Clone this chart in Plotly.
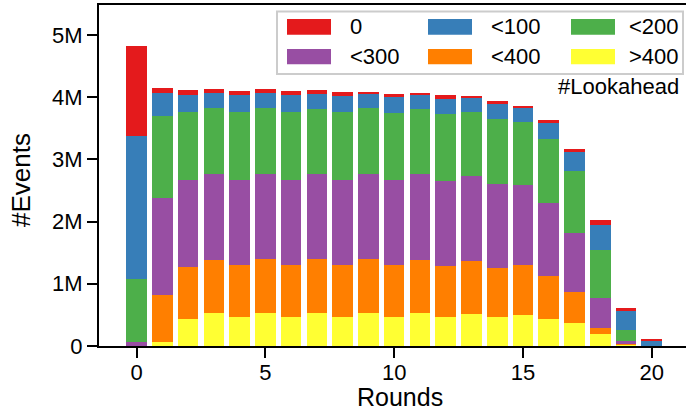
import plotly.graph_objects as go

rounds = list(range(21))
cat_names = ["0", "<100", "<200", "<300", "<400", ">400"]
colors = {"0": "#e41a1c", "<100": "#377eb8", "<200": "#4daf4a",
          "<300": "#984ea3", "<400": "#ff7f00", ">400": "#ffff33"}

# values in millions of events, per round
gt400 = [0.0, 0.06, 0.434, 0.531, 0.466, 0.531, 0.466, 0.531, 0.466, 0.531, 0.466,
         0.531, 0.466, 0.514, 0.466, 0.498, 0.434, 0.370, 0.193, 0.03, 0.0]
lt400 = [0.0, 0.756, 0.836, 0.852, 0.836, 0.868, 0.836, 0.868, 0.836, 0.868, 0.836,
         0.852, 0.820, 0.853, 0.788, 0.804, 0.691, 0.498, 0.096, 0.01, 0.0]
lt300 = [0.07, 1.559, 1.399, 1.382, 1.367, 1.366, 1.367, 1.366, 1.367, 1.366, 1.367,
         1.382, 1.367, 1.366, 1.351, 1.286, 1.174, 0.949, 0.483, 0.04, 0.0]
lt200 = [1.0, 1.319, 1.093, 1.061, 1.093, 1.061, 1.093, 1.045, 1.093, 1.061, 1.077,
         1.045, 1.077, 1.029, 1.045, 1.013, 1.029, 0.997, 0.771, 0.177, 0.0]
lt100 = [2.30, 0.37, 0.273, 0.242, 0.273, 0.242, 0.273, 0.241, 0.257, 0.225, 0.257,
         0.225, 0.241, 0.225, 0.241, 0.225, 0.257, 0.305, 0.402, 0.306, 0.08]
zero = [1.445, 0.08, 0.081, 0.064, 0.065, 0.064, 0.065, 0.065, 0.065, 0.033, 0.048,
        0.033, 0.064, 0.032, 0.048, 0.033, 0.048, 0.048, 0.081, 0.048, 0.033]

series = {">400": gt400, "<400": lt400, "<300": lt300,
          "<200": lt200, "<100": lt100, "0": zero}
stack_order = [">400", "<400", "<300", "<200", "<100", "0"]

y_ticks = [0, 1, 2, 3, 4, 5]
y_ticktext = ["0", "1M", "2M", "3M", "4M", "5M"]
x_ticks = [0, 5, 10, 15, 20]

FONT = "Liberation Sans, Arial, sans-serif"
W, H = 686, 413
L, R, T, B = 99, 0, 5, 67

fig = go.Figure()
for name in stack_order:
    fig.add_trace(go.Bar(
        x=rounds, y=[v * 1e6 for v in series[name]], name=name,
        marker=dict(color=colors[name], line=dict(width=0)),
        width=0.8, showlegend=False))

fig.update_layout(
    barmode="stack", width=W, height=H,
    margin=dict(l=L, r=R, t=T, b=B, pad=0),
    paper_bgcolor="white", plot_bgcolor="white",
    font=dict(family=FONT, size=22, color="black"),
    xaxis=dict(range=[-1.46, 21.33], tickvals=x_ticks, showgrid=False, zeroline=False,
               showline=True, linecolor="black", linewidth=2, mirror=True,
               ticks="outside", ticklen=10, tickwidth=2, tickcolor="black",
               ticklabelstandoff=-4, tickfont=dict(size=22)),
    yaxis=dict(range=[0, 5.48e6], tickvals=[v * 1e6 for v in y_ticks], ticktext=y_ticktext,
               showgrid=False, zeroline=False, showline=True, linecolor="black", linewidth=2,
               ticks="outside", ticklen=10, tickwidth=2, tickcolor="black",
               ticklabelstandoff=0, tickfont=dict(size=22)),
)

pw = W - L - R
ph = H - T - B


def px(x):
    return (x - L) / pw


def py(y):
    return (H - B - y) / ph


shapes = []
annotations = []
# legend frame
shapes.append(dict(type="rect", xref="paper", yref="paper",
                   x0=px(277), x1=px(683), y0=py(74), y1=py(11.5),
                   line=dict(color="#cccccc", width=2), fillcolor="white", layer="above"))
legend_layout = [["0", "<100", "<200"], ["<300", "<400", ">400"]]
col_sw = [287, 428, 571]
col_tx = [348, 489, 627]
row_y = [(19, 34.7), (49, 64.3)]
for r, row in enumerate(legend_layout):
    for c, name in enumerate(row):
        y0, y1 = row_y[r]
        shapes.append(dict(type="rect", xref="paper", yref="paper",
                           x0=px(col_sw[c]), x1=px(col_sw[c] + 44), y0=py(y1), y1=py(y0),
                           line=dict(width=0), fillcolor=colors[name], layer="above"))
        annotations.append(dict(text=name, xref="paper", yref="paper",
                                x=px(col_tx[c]), y=py((y0 + y1) / 2), xanchor="left",
                                yanchor="middle", showarrow=False, font=dict(size=22)))
annotations.append(dict(text="#Lookahead", xref="paper", yref="paper",
                        x=px(681), y=py(86), xanchor="right", yanchor="middle",
                        showarrow=False, font=dict(size=22)))
annotations.append(dict(text="Rounds", xref="paper", yref="paper",
                        x=px(400), y=py(397), xanchor="center", yanchor="middle",
                        showarrow=False, font=dict(size=25)))
annotations.append(dict(text="#Events", xref="paper", yref="paper",
                        x=px(21), y=py(180), xanchor="center", yanchor="middle",
                        textangle=-90, showarrow=False, font=dict(size=26)))
fig.update_layout(shapes=shapes, annotations=annotations)

fig.write_html("out.html")
